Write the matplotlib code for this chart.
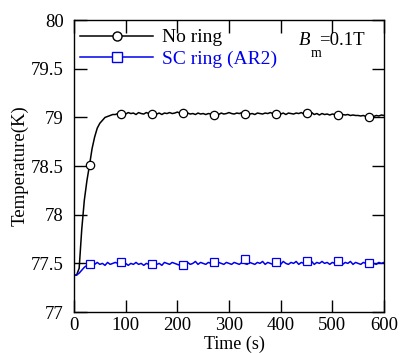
import numpy as np
import matplotlib
matplotlib.use("Agg")
import matplotlib.pyplot as plt
from matplotlib.lines import Line2D

plt.rcParams['font.family'] = ['Liberation Serif', 'DejaVu Serif']
plt.rcParams['mathtext.fontset'] = 'stix'

# time axis of the recorded traces (s)
time = np.arange(0, 601, 5)

no_ring = [
    77.38, 77.38, 77.45, 77.85, 78.15, 78.35, 78.51, 78.68, 78.80, 78.89,
    78.94, 78.97, 79.00, 79.01, 79.02, 79.03, 79.03, 79.04, 79.04,
    79.045, 79.035, 79.05, 79.04, 79.045, 79.03, 79.05, 79.04, 79.035, 79.05,
    79.04, 79.045, 79.04, 79.035, 79.045, 79.03, 79.045, 79.04, 79.05, 79.04,
    79.045, 79.055, 79.045, 79.05, 79.04, 79.045, 79.035, 79.04, 79.03, 79.045,
    79.035, 79.04, 79.03, 79.04, 79.035, 79.035, 79.04, 79.03, 79.045, 79.035,
    79.04, 79.05, 79.04, 79.035, 79.045, 79.04, 79.05, 79.04, 79.045, 79.035,
    79.04, 79.03, 79.045, 79.04, 79.035, 79.045, 79.04, 79.05, 79.04, 79.045,
    79.04, 79.035, 79.045, 79.03, 79.045, 79.04, 79.035, 79.045, 79.04, 79.05,
    79.035, 79.045, 79.035, 79.05, 79.03, 79.04, 79.025, 79.04, 79.03, 79.035,
    79.025, 79.035, 79.03, 79.03, 79.035, 79.03, 79.025, 79.03, 79.02, 79.025,
    79.02, 79.02, 79.015, 79.02, 79.01, 79.01, 79.015, 79.01, 79.02, 79.015,
    79.025, 79.02,
]

sc_ring = [
    77.38, 77.38, 77.40, 77.43, 77.46, 77.48, 77.49,
    77.50, 77.49, 77.51, 77.49, 77.50, 77.48, 77.51, 77.49, 77.50, 77.51,
    77.50, 77.51, 77.49, 77.50, 77.48, 77.50, 77.49, 77.51, 77.49, 77.50,
    77.48, 77.50, 77.49, 77.49, 77.51, 77.49, 77.50, 77.48, 77.51, 77.50,
    77.49, 77.51, 77.50, 77.49, 77.48, 77.49, 77.50, 77.51, 77.49, 77.50,
    77.52, 77.49, 77.51, 77.50, 77.49, 77.51, 77.50, 77.50, 77.49, 77.51,
    77.50, 77.49, 77.51, 77.50, 77.49, 77.51, 77.50, 77.49, 77.51, 77.50,
    77.49, 77.51, 77.50, 77.49, 77.51, 77.50, 77.52, 77.49, 77.51, 77.50,
    77.49, 77.50, 77.51, 77.49, 77.52, 77.50, 77.49, 77.51, 77.50, 77.52,
    77.49, 77.51, 77.50, 77.51, 77.50, 77.52, 77.49, 77.51, 77.50, 77.52,
    77.50, 77.51, 77.49, 77.51, 77.50, 77.51, 77.50, 77.49, 77.51, 77.50,
    77.52, 77.49, 77.51, 77.50, 77.49, 77.51, 77.50, 77.49, 77.51, 77.50,
    77.49, 77.51, 77.50, 77.51,
]

# marker positions
mark_t = [30, 90, 150, 210, 270, 330, 390, 450, 510, 570]
no_ring_mark = [78.51, 79.04, 79.04, 79.05, 79.03, 79.04, 79.04, 79.045, 79.03, 79.00]
sc_ring_mark = [77.49, 77.51, 77.49, 77.48, 77.515, 77.545, 77.515, 77.52, 77.52, 77.50]

n = len(time)
no_ring = no_ring[:n] + [no_ring[-1]] * (n - len(no_ring))
sc_ring = sc_ring[:n] + [sc_ring[-1]] * (n - len(sc_ring))

blue = '#0000ee'

fig = plt.figure(figsize=(4.0, 3.53), dpi=100)
ax = fig.add_axes([0.185, 0.116, 0.775, 0.827])

ax.plot(time, no_ring, color='black', lw=1.1)
ax.plot(mark_t, no_ring_mark, ls='none', marker='o', ms=6,
        mfc='white', mec='black', mew=0.9)
ax.plot(time, sc_ring, color=blue, lw=1.1)
ax.plot(mark_t, sc_ring_mark, ls='none', marker='s', ms=6,
        mfc='white', mec=blue, mew=0.9)

ax.set_xlim(0, 600)
ax.set_ylim(77, 80)
ax.set_xticks(range(0, 601, 100))
ax.set_yticks([77, 77.5, 78, 78.5, 79, 79.5, 80])
ax.set_yticklabels(['77', '77.5', '78', '78.5', '79', '79.5', '80'])
ax.tick_params(direction='in', length=9, width=1, labelsize=13.5,
               top=True, right=True)
ax.tick_params(axis='x', pad=3.5)
ax.tick_params(axis='y', pad=7.5)
for s in ax.spines.values():
    s.set_linewidth(1.0)

ax.set_xlabel('Time (s)', fontsize=13, va='baseline')
ax.xaxis.set_label_coords(0.516, -0.127)
ax.set_ylabel('Temperature(K)', fontsize=13.5, va='center')
ax.yaxis.set_label_coords(-0.174, 0.5)

handles = [
    Line2D([], [], color='black', lw=1.1, marker='o', ms=6.5,
           mfc='white', mec='black'),
    Line2D([], [], color=blue, lw=1.1, marker='s', ms=6.5,
           mfc='white', mec=blue),
]
leg = ax.legend(handles, ['No ring', 'SC ring (AR2)'], loc='upper left',
                bbox_to_anchor=(0.02, 0.97), frameon=False, fontsize=14,
                handlelength=3.75, handletextpad=0.45, numpoints=1,
                borderaxespad=0, borderpad=0, labelspacing=0.2)
leg.get_texts()[1].set_color(blue)

ax.text(0.726, 0.914, 'B', style='italic', transform=ax.transAxes,
        fontsize=13.5, va='baseline', ha='left')
ax.text(0.763, 0.873, 'm', transform=ax.transAxes,
        fontsize=10, va='baseline', ha='left')
ax.text(0.790, 0.914, '=0.1T', transform=ax.transAxes,
        fontsize=13.5, va='baseline', ha='left')

fig.savefig('out.png', dpi=100)
